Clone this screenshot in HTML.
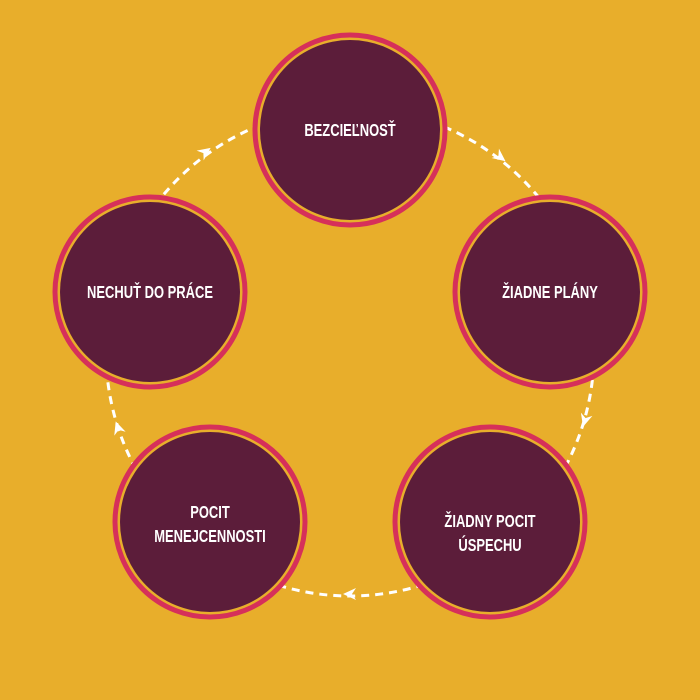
<!DOCTYPE html>
<html><head><meta charset="utf-8"><style>
html,body{margin:0;padding:0;background:#e8ae2b;}
svg{display:block}
text{font-family:"Liberation Sans",sans-serif;font-weight:bold;fill:#fff;font-size:18px;}
</style></head><body>
<svg width="700" height="700" viewBox="0 0 700 700">
<rect width="700" height="700" fill="#e8ae2b"/>
<circle cx="350" cy="352" r="244" fill="none" stroke="#fff" stroke-width="3" stroke-dasharray="8,6"/>
<g fill="#fff">
<polygon points="7,0 -6,-6 -2,0 -6,6" transform="translate(500,157) rotate(38)"/>
<polygon points="7,0 -6,-6 -2,0 -6,6" transform="translate(585,420) rotate(106)"/>
<polygon points="7,0 -6,-6 -2,0 -6,6" transform="translate(350,594) rotate(180)"/>
<polygon points="7,0 -6,-6 -2,0 -6,6" transform="translate(118,428) rotate(251)"/>
<polygon points="7,0 -6,-6 -2,0 -6,6" transform="translate(205,152) rotate(-36)"/>
</g>
<g>
<g transform="translate(350,130)"><circle r="95" fill="#e8ae2b" stroke="#d6305a" stroke-width="5"/><circle r="90" fill="#5c1d3a"/></g>
<g transform="translate(550,292)"><circle r="95" fill="#e8ae2b" stroke="#d6305a" stroke-width="5"/><circle r="90" fill="#5c1d3a"/></g>
<g transform="translate(490,522)"><circle r="95" fill="#e8ae2b" stroke="#d6305a" stroke-width="5"/><circle r="90" fill="#5c1d3a"/></g>
<g transform="translate(210,522)"><circle r="95" fill="#e8ae2b" stroke="#d6305a" stroke-width="5"/><circle r="90" fill="#5c1d3a"/></g>
<g transform="translate(150,292)"><circle r="95" fill="#e8ae2b" stroke="#d6305a" stroke-width="5"/><circle r="90" fill="#5c1d3a"/></g>
</g>
<g text-anchor="middle">
<text transform="translate(350,136) scale(0.72,1)">BEZCIEĽNOSŤ</text>
<text transform="translate(550,298) scale(0.72,1)">ŽIADNE PLÁNY</text>
<text transform="translate(490,527) scale(0.72,1)">ŽIADNY POCIT</text>
<text transform="translate(490,551) scale(0.72,1)">ÚSPECHU</text>
<text transform="translate(210,518) scale(0.72,1)">POCIT</text>
<text transform="translate(210,542) scale(0.72,1)">MENEJCENNOSTI</text>
<text transform="translate(150,298) scale(0.72,1)">NECHUŤ DO PRÁCE</text>
</g>
</svg>
</body></html>
